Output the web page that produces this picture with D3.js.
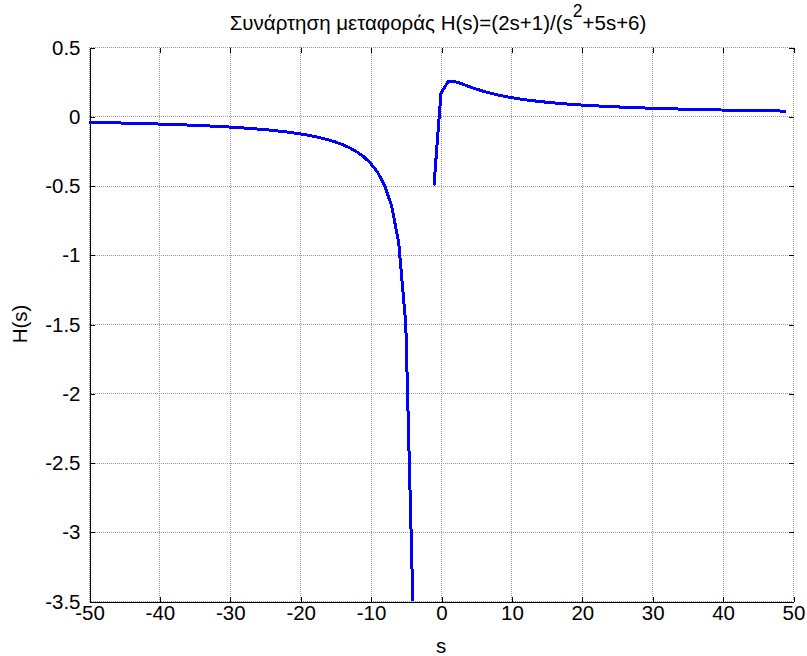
<!DOCTYPE html>
<html>
<head>
<meta charset="utf-8">
<script src="https://cdn.jsdelivr.net/npm/d3@7"></script>
<style>
  html, body { margin: 0; padding: 0; background: #fff; }
  svg { display: block; }
  text { font-family: "Liberation Sans", Arial, sans-serif; fill: #000; }
</style>
</head>
<body>
<div id="chart"></div>
<script>
// Sample points s = -50 … 49 of H(s) = (2s+1)/(s^2+5s+6); poles at s = -3, -2 leave a gap (null).
const sValues = d3.range(-50, 50);
const hValues = [
  -0.0439, -0.0449, -0.0459, -0.0470, -0.0481, -0.0493, -0.0505, -0.0518, -0.0532, -0.0547,
  -0.0562, -0.0578, -0.0595, -0.0613, -0.0633, -0.0653, -0.0675, -0.0699, -0.0724, -0.0751,
  -0.0780, -0.0812, -0.0846, -0.0883, -0.0924, -0.0968, -0.1017, -0.1071, -0.1132, -0.1199,
  -0.1275, -0.1360, -0.1458, -0.1571, -0.1703, -0.1859, -0.2045, -0.2273, -0.2556, -0.2917,
  -0.3393, -0.4048, -0.5000, -0.6500, -0.9167, -1.5000, -3.5000, null, null, -0.5000,
   0.1667,  0.2500,  0.2500,  0.2333,  0.2143,  0.1964,  0.1806,  0.1667,  0.1545,  0.1439,
   0.1346,  0.1264,  0.1190,  0.1125,  0.1066,  0.1013,  0.0965,  0.0921,  0.0881,  0.0844,
   0.0810,  0.0779,  0.0750,  0.0723,  0.0698,  0.0675,  0.0653,  0.0632,  0.0613,  0.0595,
   0.0578,  0.0561,  0.0546,  0.0532,  0.0518,  0.0505,  0.0493,  0.0481,  0.0470,  0.0459,
   0.0449,  0.0439,  0.0429,  0.0420,  0.0412,  0.0403,  0.0395,  0.0388,  0.0380,  0.0373
];
const xTicks = [-50, -40, -30, -20, -10, 0, 10, 20, 30, 40, 50];
const yTicks = [0.5, 0, -0.5, -1, -1.5, -2, -2.5, -3, -3.5];

const titleText = "Συνάρτηση μεταφοράς H(s)=(2s+1)/(s";
const xLabel = "s";
const yLabel = "H(s)";

const W = 807, H = 656;
const plotL = 89, plotR = 793, plotT = 47, plotB = 601;

const svg = d3.select("#chart").append("svg")
  .attr("width", W).attr("height", H);
svg.append("rect").attr("width", W).attr("height", H).attr("fill", "#fff");

const x = d3.scaleLinear().domain([-50, 50]).range([plotL, plotR]);
const y = d3.scaleLinear().domain([-3.5, 0.5]).range([plotB, plotT]);

const fontSize = 20.5;
const tickLen = 5;
const fmt = d => String(d);   // plain hyphen-minus in tick labels

// grid
const grid = svg.append("g").attr("stroke", "#9a9a9a").attr("stroke-width", 1)
  .attr("stroke-dasharray", "1,1").attr("shape-rendering", "crispEdges");
xTicks.forEach(t => {
  grid.append("line").attr("x1", x(t) + 0.5).attr("x2", x(t) + 0.5)
    .attr("y1", plotT).attr("y2", plotB);
});
yTicks.forEach(t => {
  grid.append("line").attr("y1", y(t) + 0.5).attr("y2", y(t) + 0.5)
    .attr("x1", plotL).attr("x2", plotR);
});

// axes (left/bottom solid, ticks on all four sides pointing inward)
const xAxisB = d3.axisBottom(x).tickValues(xTicks).tickSizeInner(-tickLen).tickSizeOuter(0)
  .tickPadding(3).tickFormat(fmt);
const gx = svg.append("g").attr("transform", `translate(0.5,${plotB + 0.5})`).call(xAxisB);
const xAxisT = d3.axisTop(x).tickValues(xTicks).tickSizeInner(-tickLen).tickSizeOuter(0).tickFormat("");
const gxt = svg.append("g").attr("transform", `translate(0.5,${plotT + 0.5})`).call(xAxisT);
gxt.select(".domain").remove();

const yAxisL = d3.axisLeft(y).tickValues(yTicks).tickSizeInner(-tickLen).tickSizeOuter(0)
  .tickPadding(9).tickFormat(fmt);
const gy = svg.append("g").attr("transform", `translate(${plotL + 0.5},0.5)`).call(yAxisL);
const yAxisR = d3.axisRight(y).tickValues(yTicks).tickSizeInner(-tickLen).tickSizeOuter(0).tickFormat("");
const gyr = svg.append("g").attr("transform", `translate(${plotR + 0.5},0.5)`).call(yAxisR);
gyr.select(".domain").remove();

[gx, gxt, gy, gyr].forEach(g => {
  g.selectAll("path, line").attr("stroke", "#000").attr("shape-rendering", "crispEdges");
  g.selectAll("text").attr("font-size", fontSize)
    .attr("font-family", "'Liberation Sans', Arial, sans-serif").attr("fill", "#000");
});
gx.selectAll("text").attr("dy", "0.76em");

// curve
const pts = sValues.map((s, i) => ({ s, h: hValues[i] }));
const line = d3.line()
  .defined(d => d.h !== null)
  .x(d => x(d.s))
  .y(d => y(d.h));
svg.append("path").datum(pts)
  .attr("fill", "none").attr("stroke", "#0000ff").attr("stroke-width", 3)
  .attr("stroke-linejoin", "round")
  .attr("shape-rendering", "crispEdges")
  .attr("d", line);

// title with superscript
const title = svg.append("text").attr("x", 438).attr("y", 30)
  .attr("text-anchor", "middle").attr("font-size", fontSize);
title.append("tspan").text(titleText);
title.append("tspan").attr("dy", -13).attr("font-size", 17.5).text("2");
title.append("tspan").attr("dy", 13).text("+5s+6)");

// axis labels
svg.append("text").attr("x", (plotL + plotR) / 2).attr("y", 653)
  .attr("text-anchor", "middle").attr("font-size", fontSize).text(xLabel);
svg.append("text").attr("transform", `translate(27,${(plotT + plotB) / 2}) rotate(-90)`)
  .attr("text-anchor", "middle").attr("font-size", fontSize).text(yLabel);
</script>
</body>
</html>
